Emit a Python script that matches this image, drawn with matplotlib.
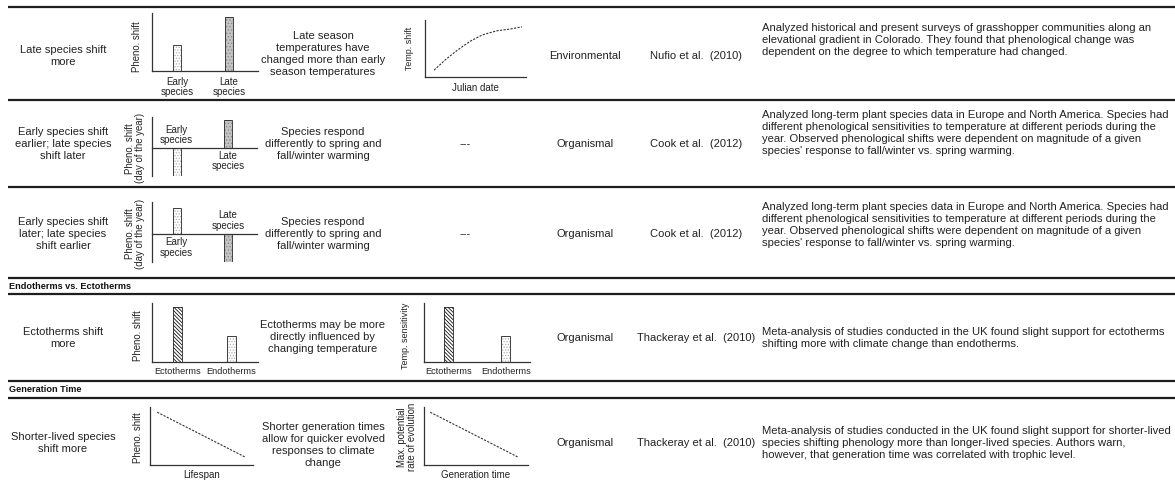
import matplotlib
matplotlib.use("Agg")
import matplotlib.pyplot as plt

plt.rcParams['font.family'] = ['Liberation Sans', 'DejaVu Sans']
plt.rcParams['hatch.linewidth'] = 0.6

W, H = 1175, 484

# ---- table text ----
patterns = ["Late species shift\nmore",
            "Early species shift\nearlier; late species\nshift later",
            "Early species shift\nlater; late species\nshift earlier",
            "Ectotherms shift\nmore",
            "Shorter-lived species\nshift more"]
mechanisms = ["Late season\ntemperatures have\nchanged more than early\nseason temperatures",
              "Species respond\ndifferently to spring and\nfall/winter warming",
              "Species respond\ndifferently to spring and\nfall/winter warming",
              "Ectotherms may be more\ndirectly influenced by\nchanging temperature",
              "Shorter generation times\nallow for quicker evolved\nresponses to climate\nchange"]
levels = ["Environmental", "Organismal", "Organismal", "Organismal", "Organismal"]
refs = ["Nufio et al.  (2010)", "Cook et al.  (2012)", "Cook et al.  (2012)",
        "Thackeray et al.  (2010)", "Thackeray et al.  (2010)"]
cook = ("Analyzed long-term plant species data in Europe and North America. Species had\n"
        "different phenological sensitivities to temperature at different periods during the\n"
        "year. Observed phenological shifts were dependent on magnitude of a given\n"
        "species' response to fall/winter vs. spring warming.")
descriptions = [
    "Analyzed historical and present surveys of grasshopper communities along an\n"
    "elevational gradient in Colorado. They found that phenological change was\n"
    "dependent on the degree to which temperature had changed.",
    cook, cook,
    "Meta-analysis of studies conducted in the UK found slight support for ectotherms\n"
    "shifting more with climate change than endotherms.",
    "Meta-analysis of studies conducted in the UK found slight support for shorter-lived\n"
    "species shifting phenology more than longer-lived species. Authors warn,\n"
    "however, that generation time was correlated with trophic level."]
headers = ["Endotherms vs. Ectotherms", "Generation Time"]

# ---- mini chart values ----
species_cats = ["Early\nspecies", "Late\nspecies"]
late_more = [0.45, 0.93]
early_earlier = [-0.9, 0.9]
early_later = [0.8, -0.875]
therm_cats = ["Ectotherms", "Endotherms"]
therm_shift = [0.93, 0.44]
therm_sens = [0.93, 0.44]
julian_x = [0.9, 2.0, 3.2, 4.5, 5.7, 7.1, 8.4, 9.6]
temp_shift = [1.2, 3.0, 4.7, 6.3, 7.4, 8.1, 8.4, 8.8]
lifespan = [0.07, 0.92]
pheno_decline = [0.91, 0.14]
gen_time = [0.06, 0.90]
evo_rate = [0.91, 0.14]

fig = plt.figure(figsize=(W / 100, H / 100), dpi=100)
bg = fig.add_axes([0, 0, 1, 1])
bg.set_xlim(0, W)
bg.set_ylim(H, 0)
bg.axis('off')

LC = '#1e1e1e'
for y in [7, 100, 187, 278, 294, 381, 398]:
    bg.plot([8, W], [y, y], color=LC, lw=1.6, solid_capstyle='butt')

bg.text(9, 286.5, headers[0], fontsize=6.6, fontweight='bold', va='center', ha='left', color='#111')
bg.text(9, 389.5, headers[1], fontsize=6.6, fontweight='bold', va='center', ha='left', color='#111')

row_y = [56, 144, 234, 338, 443]
mech_y = [54, 144, 234, 337, 445]
desc_y = [40, 133, 225, 338, 443]
TC = '#222'
for i in range(5):
    bg.text(63, row_y[i], patterns[i], fontsize=8, ha='center', va='center',
            linespacing=1.25, color=TC)
    bg.text(323, mech_y[i], mechanisms[i], fontsize=8, ha='center', va='center',
            linespacing=1.25, color=TC)
    bg.text(585, row_y[i], levels[i], fontsize=8, ha='center', va='center', color=TC)
    bg.text(696, row_y[i], refs[i], fontsize=8, ha='center', va='center', color=TC)
    bg.text(762, desc_y[i], descriptions[i], fontsize=8.1, ha='left', va='center',
            linespacing=1.25, color=TC)
for i in [1, 2]:
    bg.text(465, row_y[i], "---", fontsize=8, ha='center', va='center', color=TC)


def mini(l, t, r, b):
    ax = fig.add_axes([l / W, 1 - b / H, (r - l) / W, (b - t) / H])
    ax.set_xticks([])
    ax.set_yticks([])
    ax.spines['top'].set_visible(False)
    ax.spines['right'].set_visible(False)
    for s in ['left', 'bottom']:
        ax.spines[s].set_color('#333')
        ax.spines[s].set_linewidth(0.9)
    ax.patch.set_alpha(0)
    return ax


STY = {
    'dot': dict(face='white', hatch='......', hc='#b0b0b0'),
    'grey': dict(face='#c4c4c4', hatch='.....', hc='#8a8a8a'),
    'stripe': dict(face='white', hatch='\\\\\\\\\\\\\\\\\\', hc='#111'),
}


def bars(ax, xs, hs, styles, width):
    for x, h, s in zip(xs, hs, styles):
        st = STY[s]
        ax.bar(x, h, width, color=st['face'], edgecolor=st['hc'], hatch=st['hatch'], lw=0)
        ax.bar(x, h, width, fill=False, edgecolor='#222', lw=0.6)


def ylab(ax, text, x, y=0.5, fs=6.9):
    ax.text(x, y, text, transform=ax.transAxes, rotation=90, fontsize=fs,
            ha='center', va='center', linespacing=1.0, color=TC)


small = 7.0

# row 1 col 2
ax = mini(152, 13, 258, 71)
bars(ax, [0, 1], late_more, ['dot', 'grey'], 0.15)
ax.set_xlim(-0.48, 1.56)
ax.set_ylim(0, 1)
for x, lab in zip([0, 1], species_cats):
    ax.text(x, -0.1, lab, fontsize=small, ha='center', va='top', linespacing=1.05, color=TC,
            transform=ax.get_xaxis_transform())
ylab(ax, "Pheno. shift", -0.14, 0.42)

# row 1 col 4
ax = mini(425, 20, 526, 77)
ax.plot(julian_x, temp_shift, ls=(0, (2.0, 1.2)), color='#333', lw=0.8)
ax.set_xlim(0, 10)
ax.set_ylim(0, 10)
ax.text(0.5, -0.1, "Julian date", transform=ax.transAxes, fontsize=small, ha='center', va='top', color=TC)
ylab(ax, "Temp. shift", -0.15, 0.5, 6.4)

# rows 2 and 3 col 2
for (t, b), vals, ylim in [((117, 176), early_earlier, (-0.903, 1.0)),
                           ((202, 262), early_later, (-0.875, 1.0))]:
    ax = mini(152, t, 257, b)
    bars(ax, [0, 1], vals, ['dot', 'grey'], 0.15)
    ax.set_xlim(-0.48, 1.56)
    ax.set_ylim(*ylim)
    ax.spines['bottom'].set_position(('data', 0))
    for x, v, lab in zip([0, 1], vals, species_cats):
        yy = 0.42 if v < 0 else -0.42
        ax.text(x, yy, lab, fontsize=small, ha='center', va='center', linespacing=1.05, color=TC)
    ylab(ax, "Pheno. shift\n(day of the year)", -0.165, 0.47)

# row 4
for (l, r), vals, xl, yl, lx, fs in [((152, 258), therm_shift, (-0.47, 1.49), "Pheno. shift", -0.13, 6.9),
                                     ((424, 530), therm_sens, (-0.44, 1.43), "Temp. sensitivity", -0.17, 6.5)]:
    ax = mini(l, 303, r, 362)
    bars(ax, [0, 1], vals, ['stripe', 'dot'], 0.16)
    ax.set_xlim(*xl)
    ax.set_ylim(0, 1)
    for x, lab in zip([0, 1], therm_cats):
        ax.text(x, -0.08, lab, fontsize=6.6, ha='center', va='top', color=TC,
                transform=ax.get_xaxis_transform())
    ylab(ax, yl, lx, 0.45, fs)

# row 5
for (l, r), xs, ys, xl, yl, lx in [((150, 253), lifespan, pheno_decline, "Lifespan", "Pheno. shift", -0.12),
                                   ((424, 528), gen_time, evo_rate, "Generation time",
                                    "Max. potential\nrate of evolution", -0.16)]:
    ax = mini(l, 407, r, 465)
    ax.plot(xs, ys, ls=(0, (2.0, 1.2)), color='#333', lw=0.8)
    ax.set_xlim(0, 1)
    ax.set_ylim(0, 1)
    ax.text(0.5, -0.08, xl, transform=ax.transAxes, fontsize=small, ha='center', va='top', color=TC)
    ylab(ax, yl, lx, 0.48)

fig.savefig("out.png", dpi=100)
